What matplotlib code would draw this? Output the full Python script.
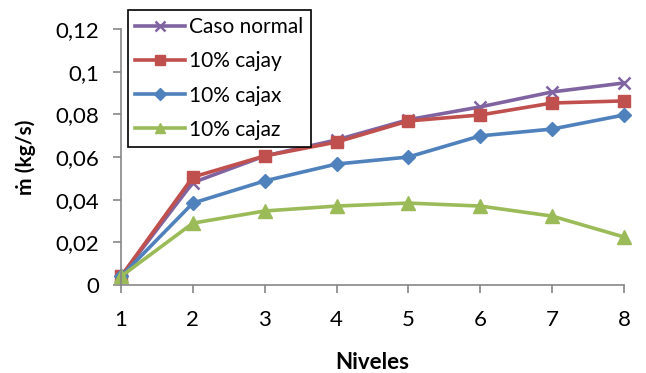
import matplotlib
matplotlib.use("Agg")
import matplotlib.pyplot as plt

niveles = [1, 2, 3, 4, 5, 6, 7, 8]
caso_normal = [0.004, 0.048, 0.0605, 0.068, 0.0775, 0.0835, 0.0905, 0.0947]
cajay = [0.004, 0.0506, 0.0605, 0.067, 0.0769, 0.0797, 0.0853, 0.0863]
cajax = [0.004, 0.0384, 0.0488, 0.0567, 0.060, 0.0699, 0.0731, 0.0797]
cajaz = [0.004, 0.029, 0.0347, 0.037, 0.0384, 0.037, 0.0323, 0.0225]
yticks = [0, 0.02, 0.04, 0.06, 0.08, 0.1, 0.12]
ytick_labels = ["0", "0,02", "0,04", "0,06", "0,08", "0,1", "0,12"]

plt.rcParams['font.family'] = ['Lato', 'DejaVu Sans']

W, H = 646, 373
fig = plt.figure(figsize=(W/100, H/100), dpi=100)
ax = fig.add_axes([121/W, 1-285/H, (624-121)/W, (285-29)/H])

ax.plot(niveles, caso_normal, color='#8064A2', lw=2.6, marker='x', ms=9, mew=1.8, label='Caso normal')
ax.plot(niveles, cajay, color='#C0504D', lw=2.6, marker='s', ms=9, label='10% cajay')
ax.plot(niveles, cajax, color='#4F81BD', lw=2.6, marker='D', ms=7.5, label='10% cajax')
ax.plot(niveles, cajaz, color='#9BBB59', lw=2.6, marker='^', ms=9.5, label='10% cajaz')

ax.set_xlim(1, 8)
ax.set_ylim(0, 0.12)
ax.set_yticks(yticks)
ax.set_yticklabels(ytick_labels)
ax.set_xticks(niveles)
for s in ['top', 'right']:
    ax.spines[s].set_visible(False)
for s in ['left', 'bottom']:
    ax.spines[s].set_color('#868686')
    ax.spines[s].set_linewidth(1.2)
ax.tick_params(axis='both', direction='out', length=6, width=1.2, color='#868686', labelsize=16)
ax.tick_params(axis='x', pad=12)
ax.tick_params(axis='y', pad=10)
for line in ax.lines:
    line.set_clip_on(False)

ax.set_xlabel('Niveles', fontsize=16, fontweight='bold')
ax.xaxis.set_label_coords(0.5, -0.26)
ax.set_ylabel('ṁ (kg/s)', fontsize=15, fontweight='bold')
ax.yaxis.set_label_coords(-0.168, 0.5)

leg = fig.legend(loc='upper left', bbox_to_anchor=(128/W, 1-10/H), fontsize=15,
                 frameon=True, fancybox=False, edgecolor='black', framealpha=1,
                 handlelength=2.4, labelspacing=0.68, borderpad=0.35, borderaxespad=0,
                 handletextpad=0.2, markerscale=0.8)
leg.get_frame().set_linewidth(1.2)

fig.savefig('out.png', dpi=100)
